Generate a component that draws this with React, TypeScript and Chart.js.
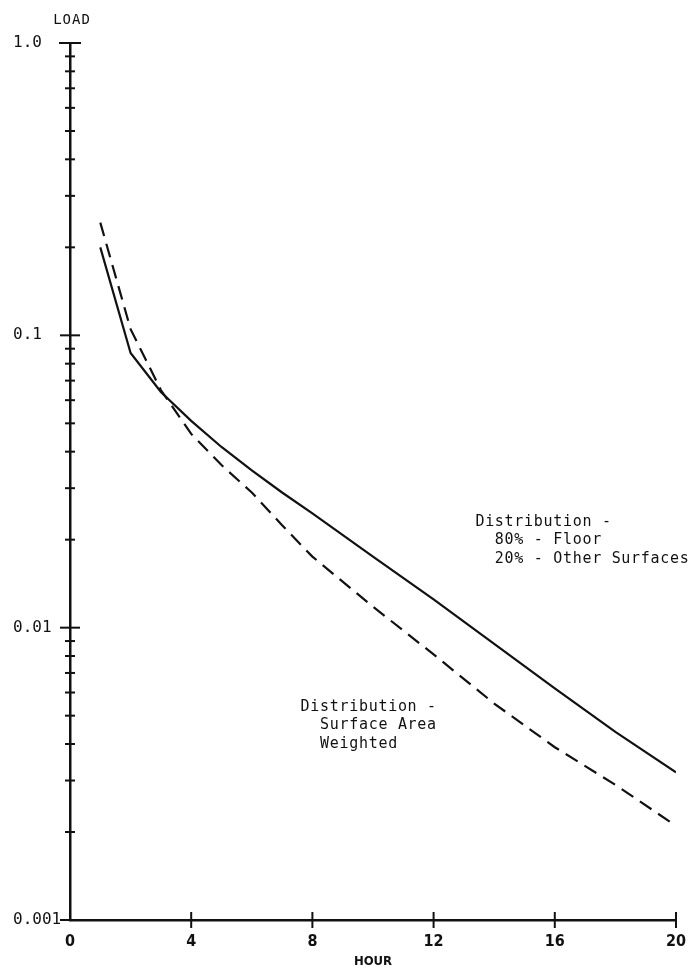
import { useEffect, useRef } from 'react';
import { Chart, registerables } from 'chart.js';

Chart.register(...registerables);

// ---- data ----
const hours = [1, 2, 3, 4, 5, 6, 7, 8, 10, 12, 14, 16, 18, 20];
const floorLoad = [0.2, 0.087, 0.064, 0.051, 0.0415, 0.0345, 0.029, 0.0246, 0.0175, 0.0125, 0.0088, 0.0062, 0.0044, 0.0032];
const areaLoad = [0.243, 0.105, 0.065, 0.046, 0.036, 0.029, 0.0224, 0.0175, 0.0118, 0.0081, 0.0055, 0.0039, 0.0029, 0.0021];

const xTickValues = [0, 4, 8, 12, 16, 20];
const xTickLabels = ['0', '4', '8', '12', '16', '20'];
const yTickValues = [
  0.001, 0.002, 0.003, 0.004, 0.005, 0.006, 0.007, 0.008, 0.009,
  0.01, 0.02, 0.03, 0.04, 0.05, 0.06, 0.07, 0.08, 0.09,
  0.1, 0.2, 0.3, 0.4, 0.5, 0.6, 0.7, 0.8, 0.9,
  1,
];
const yMajorValues = [0.001, 0.01, 0.1, 1];
const yMajorLabels = ['0.001', '0.01', '0.1', '1.0'];

const floorNote = ['Distribution -', '  80% - Floor', '  20% - Other Surfaces'];
const areaNote = ['Distribution -', '  Surface Area', '  Weighted'];

const INK = '#111';

const near = (a: number, b: number) => Math.abs(Math.log10(a) - Math.log10(b)) < 1e-6;

const decorPlugin = {
  id: 'decor',
  afterDraw(chart: any) {
    const { ctx, chartArea } = chart;
    const xs = chart.scales.x;
    const ys = chart.scales.y;
    ctx.save();
    ctx.strokeStyle = INK;
    ctx.lineWidth = 2;
    // y-axis crossing tick marks
    const ax = chartArea.left;
    yTickValues.forEach((v) => {
      const py = ys.getPixelForValue(v);
      const major = yMajorValues.some((m) => near(m, v));
      let len = major ? 10 : 5;
      if (near(v, 1)) len = 11;
      ctx.beginPath();
      ctx.moveTo(ax - len, py);
      ctx.lineTo(ax + len, py);
      ctx.stroke();
    });
    // x-axis crossing tick marks
    const ay = chartArea.bottom;
    xTickValues.forEach((v) => {
      if (v === 0) return;
      const px = xs.getPixelForValue(v);
      ctx.beginPath();
      ctx.moveTo(px, ay - 8);
      ctx.lineTo(px, ay + 8);
      ctx.stroke();
    });
    // axis title LOAD
    ctx.fillStyle = INK;
    ctx.font = "14px 'DejaVu Sans Mono'";
    (ctx as any).letterSpacing = '1px';
    ctx.textAlign = 'center';
    ctx.textBaseline = 'middle';
    ctx.fillText('LOAD', chartArea.left + 2, chartArea.top - 23);
    // notes
    ctx.font = "15px 'DejaVu Sans Mono'";
    (ctx as any).letterSpacing = '0.7px';
    ctx.textAlign = 'left';
    const drawNote = (lines: string[], hx: number, vy: number) => {
      const px = xs.getPixelForValue(hx);
      const py = ys.getPixelForValue(vy);
      lines.forEach((t, i) => ctx.fillText(t, px, py + i * 18.5));
    };
    drawNote(floorNote, 13.38, 0.023);
    drawNote(areaNote, 7.61, 0.00535);
    ctx.restore();
  },
};

export default function App() {
  const ref = useRef<HTMLCanvasElement | null>(null);

  useEffect(() => {
    if (!ref.current) return;
    const chart = new Chart(ref.current, {
      type: 'line',
      data: {
        datasets: [
          {
            label: 'Floor 80% / Other 20%',
            data: hours.map((h, i) => ({ x: h, y: floorLoad[i] })),
            borderColor: INK,
            borderWidth: 2.2,
            pointRadius: 0,
            tension: 0,
            fill: false,
          },
          {
            label: 'Surface Area Weighted',
            data: hours.map((h, i) => ({ x: h, y: areaLoad[i] })),
            borderColor: INK,
            borderWidth: 2.2,
            borderDash: [14, 8],
            pointRadius: 0,
            tension: 0,
            fill: false,
          },
        ],
      },
      options: {
        animation: false,
        responsive: false,
        layout: { padding: { left: 13, top: 43, right: 18, bottom: 0 } },
        plugins: {
          legend: { display: false },
          tooltip: { enabled: false },
          title: { display: false },
        },
        scales: {
          x: {
            type: 'linear',
            min: 0,
            max: 20,
            afterFit: (s: any) => {
              s.height = 55;
            },
            afterBuildTicks: (s: any) => {
              s.ticks = xTickValues.map((v) => ({ value: v }));
            },
            grid: { display: false, drawTicks: false },
            border: { display: true, color: INK, width: 2.5 },
            ticks: {
              padding: 12,
              color: INK,
              autoSkip: false,
              maxRotation: 0,
              font: { family: "'DejaVu Sans Condensed', 'DejaVu Sans'", size: 16, weight: 'bold' },
              callback: (v: any) => {
                const i = xTickValues.indexOf(Number(v));
                return i >= 0 ? xTickLabels[i] : '';
              },
            },
            title: {
              display: true,
              text: 'HOUR',
              color: INK,
              font: { family: "'DejaVu Sans Condensed', 'DejaVu Sans'", size: 13, weight: 'bold' },
              padding: { top: 0, bottom: 6 },
            },
          },
          y: {
            type: 'logarithmic',
            min: 0.001,
            max: 1,
            afterFit: (s: any) => {
              s.width = 57;
            },
            afterBuildTicks: (s: any) => {
              s.ticks = yTickValues.map((v) => ({ value: v }));
            },
            grid: { display: false, drawTicks: false },
            border: { display: true, color: INK, width: 2.5 },
            ticks: {
              color: INK,
              autoSkip: false,
              crossAlign: 'far',
              padding: 0,
              font: { family: "'DejaVu Sans Mono'", size: 16 },
              callback: (v: any) => {
                const i = yMajorValues.findIndex((m) => near(m, Number(v)));
                return i >= 0 ? yMajorLabels[i] : '';
              },
            },
          },
        },
      },
      plugins: [decorPlugin],
    } as any);
    return () => chart.destroy();
  }, []);

  return (
    <div style={{ position: 'absolute', left: 0, top: 0, width: 698, height: 975, background: '#fff' }}>
      <canvas ref={ref} width={698} height={975} />
    </div>
  );
}
